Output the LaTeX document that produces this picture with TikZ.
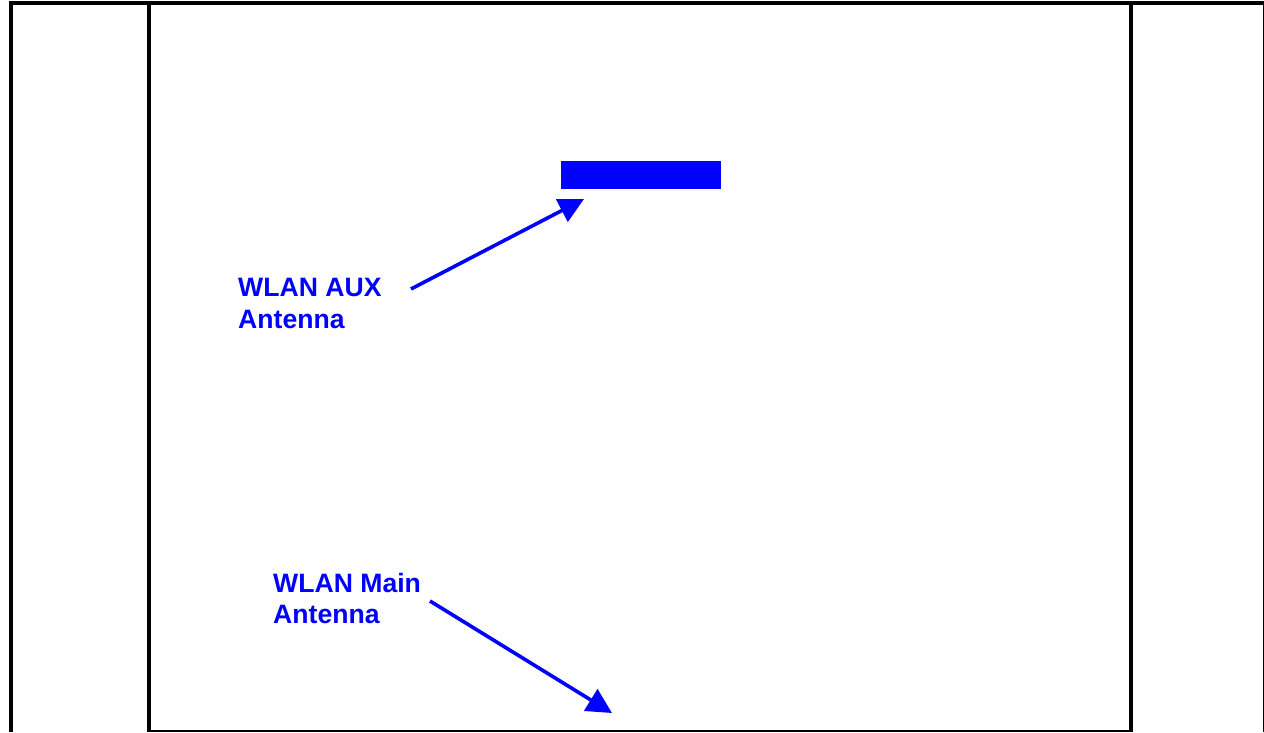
\documentclass[tikz,border=0pt]{standalone}
\usepackage{fontspec}
\setmainfont{Liberation Sans}
\usetikzlibrary{arrows.meta}
\definecolor{pureblue}{RGB}{0,0,255}
\tikzset{
  thickrule/.style={line width=4pt, black},
  thinrule/.style={line width=1.3pt, black},
  label/.style={anchor=north west, inner sep=0pt, align=left, text=pureblue,
    font=\fontsize{26.6}{31.5}\selectfont\bfseries},
  pointer/.style={line width=3.6pt, draw=pureblue,
    -{Triangle[length=25pt,width=25pt]}},
}
\begin{document}
\begin{tikzpicture}[x=1pt,y=-1pt]
\useasboundingbox (0,0) rectangle (1264,732);
% frame
\draw[thickrule] (9,3) -- (1264,3);
\draw[thickrule] (11,1) -- (11,732);
\draw[thickrule] (149,1) -- (149,732);
\draw[thickrule] (1131,1) -- (1131,732);
\draw[thinrule] (1263.2,1) -- (1263.2,732);
\draw[thinrule] (149,731) -- (1131,731);
% antenna block
\node[fill=pureblue, inner sep=0pt, minimum width=160pt, minimum height=28pt, anchor=north west] (auxblock) at (561,161) {};
% labels
\node[label] (auxlabel) at (238,278) {WLAN AUX\\Antenna};
\node[label] (mainlabel) at (273,573) {WLAN Main\\Antenna};
% arrows
\coordinate (auxstart) at (411,289);
\coordinate (auxtip) at (584,199);
\coordinate (mainstart) at (430,601);
\coordinate (maintip) at (612,713);
\draw[pointer] (auxstart) -- (auxtip);
\draw[pointer] (mainstart) -- (maintip);
\end{tikzpicture}
\end{document}
